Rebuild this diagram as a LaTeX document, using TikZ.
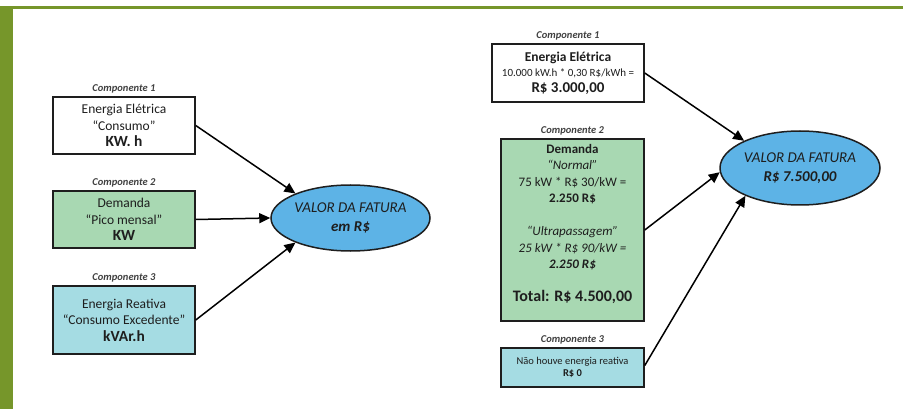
\documentclass[tikz,border=0pt]{standalone}
\usepackage{fontspec}
\setmainfont{Carlito}
\usetikzlibrary{arrows.meta,shapes.geometric}
\definecolor{frame}{HTML}{76962A}
\definecolor{gfill}{HTML}{A8D8B2}
\definecolor{bfill}{HTML}{A5DCE3}
\definecolor{efill}{HTML}{5DB3E6}
\definecolor{ink}{HTML}{1E1E1E}
\tikzset{
  box/.style={draw=ink, line width=1.5pt, rectangle, align=center, inner sep=0pt, text=ink,
    font=\fontsize{13.5}{16.5}\selectfont},
  oval/.style={draw=ink, line width=1.5pt, ellipse, inner sep=0pt, fill=efill, align=center,
    text=ink, font=\itshape\fontsize{15}{19}\selectfont},
  comp/.style={font=\bfseries\itshape\fontsize{10.5}{12}\selectfont, text=ink!85, inner sep=1pt},
  arr/.style={line width=1.5pt, draw=black, -{Triangle[length=11pt,width=10pt]}},
}
\begin{document}
\begin{tikzpicture}[x=1pt,y=-1pt]
\useasboundingbox (0,0) rectangle (903,409);
\fill[frame] (0,6) rectangle (903,9);
\fill[frame] (0,6) rectangle (13,409);

% left diagram
\node[box, minimum width=142pt, minimum height=57pt,
  label={[comp,label distance=1.5pt]above:Componente 1}] (l1) at (124,125.5)
  {Energia Elétrica\\“Consumo”\\{\bfseries\fontsize{15.5}{16.5}\selectfont KW. h}};
\node[box, fill=gfill, minimum width=142pt, minimum height=57pt,
  label={[comp,label distance=1.5pt]above:Componente 2}] (l2) at (124,219.5)
  {Demanda\\“Pico mensal”\\{\bfseries\fontsize{15.5}{16.5}\selectfont KW}};
\node[box, fill=bfill, minimum width=142pt, minimum height=68pt,
  label={[comp,label distance=1.5pt]above:Componente 3}] (l3) at (124,320)
  {Energia Reativa\\“Consumo Excedente”\\{\bfseries\fontsize{15.5}{16.5}\selectfont kVAr.h}};
\node[oval, minimum width=159pt, minimum height=66pt] (le) at (350.5,218)
  {VALOR DA FATURA\\{\bfseries em R\$}};
\draw[arr] (l1.east) -- (le.156);
\draw[arr] (l2.east) -- (le.west);
\draw[arr] (l3.east) -- (le.204);

% right diagram
\node[box, minimum width=152pt, minimum height=58pt,
  label={[comp,label distance=1.5pt]above:Componente 1}] (r1) at (568,73)
  {{\bfseries Energia Elétrica}\\[-1pt]{\fontsize{11}{13}\selectfont 10.000 kW.h * 0,30 R\$/kWh =}\\[-1pt]{\bfseries\fontsize{15}{16}\selectfont R\$ 3.000,00}};
\node[box, fill=gfill, minimum width=143pt, minimum height=182pt,
  label={[comp,label distance=1.5pt]above:Componente 2}] (r2) at (572.5,230) {};
\node[align=center, anchor=north, inner sep=0pt, text=ink, font=\fontsize{13}{16.4}\selectfont] (r2t)
  at ([yshift=-6pt]r2.north)
  {{\bfseries Demanda}\\
   {\itshape “Normal”}\\
   75 kW * R\$ 30/kW =\\
   {\bfseries 2.250 R\$}\\[16.5pt]
   {\itshape “Ultrapassagem”}\\
   {\itshape 25 kW * R\$ 90/kW =}\\
   {\bfseries\itshape 2.250 R\$}\\[16.5pt]
   {\bfseries\fontsize{16}{16}\selectfont Total: R\$ 4.500,00}};
\node[box, fill=bfill, minimum width=143pt, minimum height=39pt,
  font=\fontsize{10.5}{12}\selectfont,
  label={[comp,label distance=1.5pt]above:Componente 3}] (r3) at (572.5,367.5)
  {Não houve energia reativa\\{\bfseries R\$ 0}};
\node[oval, minimum width=160pt, minimum height=74pt] (re) at (800,168)
  {VALOR DA FATURA\\{\bfseries R\$ 7.500,00}};
\draw[arr] (r1.east) -- (re.154);
\draw[arr] (r2.east) -- (re.183);
\draw[arr] ([yshift=2pt]r3.east) -- (re.207);
\end{tikzpicture}
\end{document}
